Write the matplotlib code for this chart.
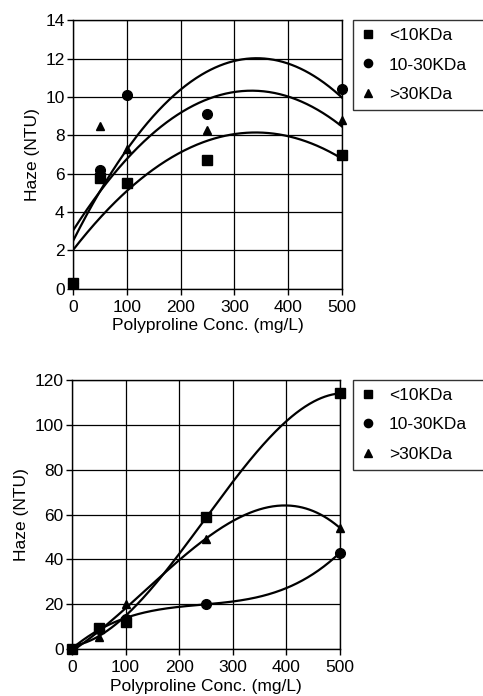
import numpy as np
import matplotlib.pyplot as plt

plt.rcParams['font.family'] = ['Liberation Sans', 'DejaVu Sans']
plt.rcParams['font.size'] = 12

conc = [0, 50, 100, 250, 500]
labels = ['<10KDa', '10-30KDa', '>30KDa']
markers = ['s', 'o', '^']
msizes = [7, 7, 6]

# top panel
top_lt10 = [0.3, 5.8, 5.5, 6.7, 7.0]
top_10_30 = [0.3, 6.2, 10.1, 9.1, 10.4]
top_gt30 = [0.3, 8.5, 7.3, 8.3, 8.8]

# bottom panel
bot_lt10 = [0, 9.5, 12, 59, 114]
bot_10_30 = [0, 9, 13.5, 20, 43]
bot_gt30 = [0, 5.5, 20, 49, 54]


def panel(fig, rect, series, deg, ymax, ystep):
    ax = fig.add_axes(rect)
    xs = np.linspace(0, 500, 300)
    for ys, m, ms, lab in zip(series, markers, msizes, labels):
        coef = np.polyfit(conc, ys, deg)
        ax.plot(xs, np.polyval(coef, xs), color='black', lw=1.6, zorder=3)
    # squares drawn last so they sit on top at the origin
    for ys, m, ms, lab in list(zip(series, markers, msizes, labels))[::-1]:
        ax.plot(conc, ys, ls='none', marker=m, ms=ms, color='black',
                label=lab, zorder=4, clip_on=False)
    ax.set_xlim(0, 500)
    ax.set_ylim(0, ymax)
    ax.set_xticks(range(0, 501, 100))
    ax.set_yticks(range(0, ymax + 1, ystep))
    ax.grid(True, color='black', lw=0.9)
    ax.set_axisbelow(True)
    for s in ax.spines.values():
        s.set_linewidth(1.0)
    ax.tick_params(direction='out', length=4, width=1, labelsize=12.5, pad=2)
    ax.tick_params(axis='x', pad=4)
    ax.set_xlabel('Polyproline Conc. (mg/L)', fontsize=12.5, labelpad=2.5)
    ax.set_ylabel('Haze (NTU)', fontsize=12.5, labelpad=4)
    return ax


fig = plt.figure(figsize=(4.83, 6.96), dpi=100)
ax1 = panel(fig, [0.151, 0.585, 0.557, 0.386],
            [top_lt10, top_10_30, top_gt30], 2, 14, 2)
ax2 = panel(fig, [0.149, 0.0675, 0.555, 0.3865],
            [bot_lt10, bot_10_30, bot_gt30], 3, 120, 20)

for ax, top in [(ax1, 0.971), (ax2, 0.454)]:
    h, l = ax.get_legend_handles_labels()
    fig.legend(h[::-1], l[::-1], loc='upper left',
               bbox_to_anchor=(0.731, top - 0.128, 0.3, 0.128), mode='expand',
               frameon=True, fancybox=False, edgecolor='black', fontsize=12.5,
               handlelength=0.8, handletextpad=0.8, labelspacing=0.82,
               borderpad=0.45, borderaxespad=0, markerscale=0.85)

fig.savefig('out.png', dpi=100)
